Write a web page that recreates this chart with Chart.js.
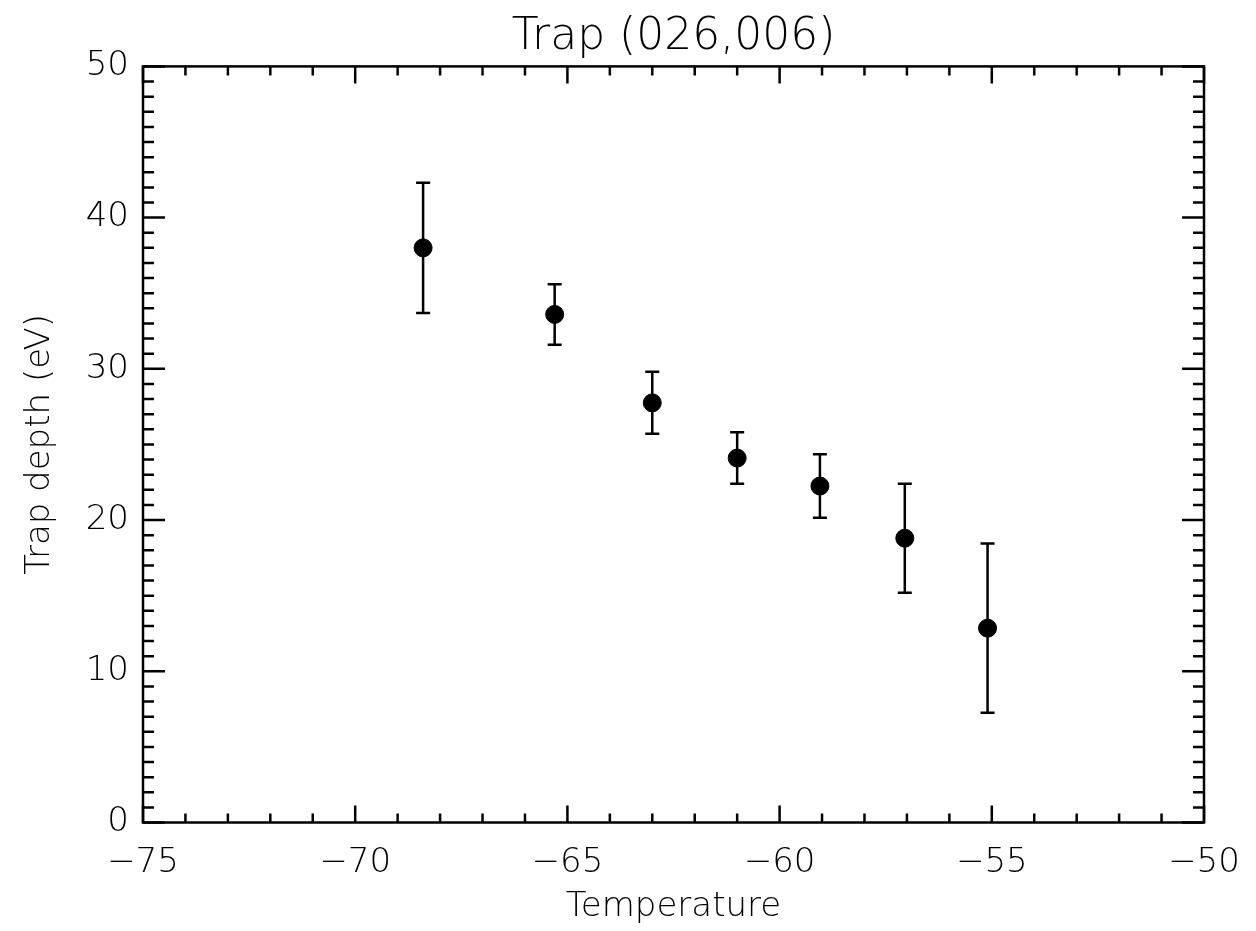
<!DOCTYPE html>
<html>
<head>
<meta charset="utf-8">
<script src="https://cdn.jsdelivr.net/npm/chart.js@4"></script>
<style>
  html, body { margin: 0; padding: 0; background: #fff; }
  canvas { display: block; }
</style>
</head>
<body>
<canvas id="grafico" width="1256" height="931"></canvas>
<script>
// valores
const temperaturas = [-68.4, -65.3, -63.0, -61.0, -59.05, -57.05, -55.1];
const profundidades = [38.0, 33.6, 27.75, 24.1, 22.25, 18.8, 12.85];
const erros = [4.3, 2.0, 2.05, 1.7, 2.1, 3.6, 5.6];

const titulo = 'Trap (026,006)';
const tituloX = 'Temperature';
const tituloY = 'Trap depth (eV)';
const limitesX = [-75, -50];
const limitesY = [0, 50];

const fonte = 'DejaVu Sans';
const peso = 200;

// barras de erro
const pluginErros = {
    id: 'erros',
    afterDatasetsDraw(chart) {
        const ctx = chart.ctx;
        const sx = chart.scales.x, sy = chart.scales.y;
        ctx.save();
        ctx.strokeStyle = '#000';
        ctx.lineWidth = 2.5;
        for (let i = 0; i < temperaturas.length; i++) {
            let x = sx.getPixelForValue(temperaturas[i]);
            let y1 = sy.getPixelForValue(profundidades[i] + erros[i]);
            let y2 = sy.getPixelForValue(profundidades[i] - erros[i]);
            ctx.beginPath();
            ctx.moveTo(x, y1); ctx.lineTo(x, y2);
            ctx.moveTo(x - 7, y1); ctx.lineTo(x + 7, y1);
            ctx.moveTo(x - 7, y2); ctx.lineTo(x + 7, y2);
            ctx.stroke();
        }
        ctx.restore();
    }
};

// moldura e marcas para dentro, estilo IDL
const pluginMoldura = {
    id: 'moldura',
    afterDraw(chart) {
        const ctx = chart.ctx;
        const a = chart.chartArea;
        const sx = chart.scales.x, sy = chart.scales.y;
        ctx.save();
        ctx.strokeStyle = '#000';
        ctx.lineWidth = 2.5;
        ctx.beginPath();
        for (let v = limitesX[0]; v <= limitesX[1]; v++) {
            let x = sx.getPixelForValue(v);
            let len = (v % 5 === 0) ? 17 : 9;
            ctx.moveTo(x, a.bottom); ctx.lineTo(x, a.bottom - len);
            ctx.moveTo(x, a.top); ctx.lineTo(x, a.top + len);
        }
        for (let v = limitesY[0]; v <= limitesY[1]; v++) {
            let y = sy.getPixelForValue(v);
            let len = (v % 10 === 0) ? 22 : 11;
            ctx.moveTo(a.left, y); ctx.lineTo(a.left + len, y);
            ctx.moveTo(a.right, y); ctx.lineTo(a.right - len, y);
        }
        ctx.stroke();
        ctx.strokeRect(a.left, a.top, a.right - a.left, a.bottom - a.top);
        ctx.restore();
    }
};

function menos(v) {
    return String(v).replace('-', '\u2212');
}

const ctx = document.getElementById('grafico').getContext('2d');
const grafico = new Chart(ctx, {
    type: 'scatter',
    data: {
        datasets: [{
            data: temperaturas.map((t, i) => ({ x: t, y: profundidades[i] })),
            backgroundColor: '#000',
            borderColor: '#000',
            pointRadius: 9,
            pointHoverRadius: 9
        }]
    },
    options: {
        responsive: false,
        animation: false,
        devicePixelRatio: 1,
        layout: { padding: { left: 0, right: 52, top: 0, bottom: 0 } },
        plugins: {
            legend: { display: false },
            tooltip: { enabled: false },
            title: {
                display: true,
                fullSize: false,
                text: titulo,
                color: '#000',
                font: { family: fonte, size: 44, weight: peso, lineHeight: 1.2 },
                padding: { top: 11, bottom: 2.6 }
            }
        },
        scales: {
            x: {
                type: 'linear',
                min: limitesX[0],
                max: limitesX[1],
                grid: { display: false, drawTicks: false },
                border: { display: false },
                ticks: {
                    stepSize: 5,
                    color: '#000',
                    padding: 20,
                    font: { family: fonte, size: 34, weight: peso },
                    callback: v => menos(v)
                },
                title: {
                    display: true,
                    text: tituloX,
                    color: '#000',
                    font: { family: fonte, size: 34, weight: peso },
                    padding: { top: 0, bottom: 3 }
                },
                afterFit(scale) {
                    scale.height = 931 - 822.5;
                    scale.paddingLeft = 0;
                    scale.paddingRight = 0;
                }
            },
            y: {
                type: 'linear',
                min: limitesY[0],
                max: limitesY[1],
                grid: { display: false, drawTicks: false },
                border: { display: false },
                ticks: {
                    stepSize: 10,
                    color: '#000',
                    padding: 14,
                    font: { family: fonte, size: 34, weight: peso },
                    callback: v => menos(v)
                },
                title: {
                    display: true,
                    text: tituloY,
                    color: '#000',
                    font: { family: fonte, size: 34, weight: peso },
                    padding: { top: 20, bottom: 0 }
                },
                afterFit(scale) { scale.width = 143; }
            }
        }
    },
    plugins: [pluginErros, pluginMoldura]
});
</script>
</body>
</html>
